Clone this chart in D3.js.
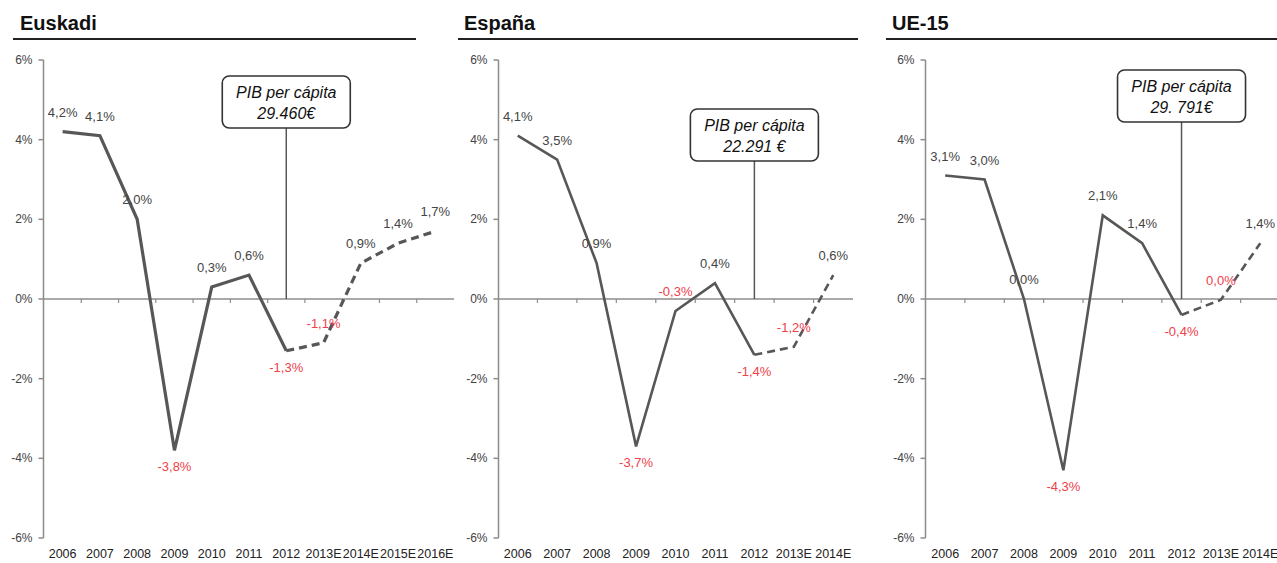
<!DOCTYPE html>
<html>
<head>
<meta charset="utf-8">
<script src="https://cdn.jsdelivr.net/npm/d3@7"></script>
<style>
  body { margin: 0; background: #fff; }
  svg { display: block; font-family: "Liberation Sans", Arial, sans-serif; }
</style>
</head>
<body>
<div id="chart"></div>
<script>
// --- datos ---
var yearsLong = ["2006", "2007", "2008", "2009", "2010", "2011", "2012", "2013E", "2014E", "2015E", "2016E"];
var yearsShort = ["2006", "2007", "2008", "2009", "2010", "2011", "2012", "2013E", "2014E"];
var euskadiValues = [4.2, 4.1, 2.0, -3.8, 0.3, 0.6, -1.3, -1.1, 0.9, 1.4, 1.7];
var espanaValues = [4.1, 3.5, 0.9, -3.7, -0.3, 0.4, -1.4, -1.2, 0.6];
var ue15Values = [3.1, 3.0, 0.0, -4.3, 2.1, 1.4, -0.4, -0.02, 1.4];
var yTicks = [-6, -4, -2, 0, 2, 4, 6];
var titles = ["Euskadi", "España", "UE-15"];
var calloutLabel = "PIB per cápita";
var calloutValues = ["29.460€", "22.291 €", "29. 791€"];
var lastRealYear = "2012";

// --- layout de cada panel ---
var panels = [
  { title: titles[0], cats: yearsLong, values: euskadiValues, callout: calloutValues[0],
    axisX: 43.5, range: [44, 454], titleX: 20, rule: [13, 416], boxTop: 76, lineW: 3.2,
    above: ["2013E"] },
  { title: titles[1], cats: yearsShort, values: espanaValues, callout: calloutValues[1],
    axisX: 498.5, range: [498, 853], titleX: 464, rule: [458, 858], boxTop: 109, lineW: 2.6,
    above: ["2010", "2013E"] },
  { title: titles[2], cats: yearsShort, values: ue15Values, callout: calloutValues[2],
    axisX: 925.5, range: [925.5, 1280], titleX: 892, rule: [886, 1277], boxTop: 70, lineW: 2.6,
    above: ["2013E"] }
];

var width = 1277, height = 563;
var red = "#f0404a", grey = "#444", axisGrey = "#8c8c8c", lineGrey = "#575757";

var svg = d3.select("#chart").append("svg")
  .attr("width", width)
  .attr("height", height);

var y = d3.scaleLinear().domain([-6, 6]).range([538, 60]);

function fmt(v) {
  var s = Math.abs(v).toFixed(1).replace(".", ",");
  return (v <= -0.05 ? "-" : "") + s + "%";
}

panels.forEach(drawPanel);

function drawPanel(p) {
  var g = svg.append("g");
  var x = d3.scaleBand().domain(p.cats).range(p.range);
  var cx = function (c) { return x(c) + x.bandwidth() / 2; };
  var pts = p.cats.map(function (c, i) { return { cat: c, v: p.values[i] }; });

  // titulo + subrayado
  g.append("text")
    .attr("x", p.titleX).attr("y", 30)
    .attr("font-size", 20).attr("font-weight", "bold").attr("fill", "#111")
    .text(p.title);
  g.append("line")
    .attr("x1", p.rule[0]).attr("x2", p.rule[1])
    .attr("y1", 39).attr("y2", 39)
    .attr("stroke", "#222").attr("stroke-width", 2);

  // eje Y
  g.append("line")
    .attr("x1", p.axisX).attr("x2", p.axisX)
    .attr("y1", y(6)).attr("y2", y(-6))
    .attr("stroke", axisGrey).attr("stroke-width", 1.5);
  g.selectAll(".ytick").data(yTicks).enter().append("line")
    .attr("x1", p.axisX - 5).attr("x2", p.axisX)
    .attr("y1", function (d) { return y(d); }).attr("y2", function (d) { return y(d); })
    .attr("stroke", axisGrey).attr("stroke-width", 1.5);
  g.selectAll(".ylab").data(yTicks).enter().append("text")
    .attr("x", p.axisX - 11).attr("y", function (d) { return y(d) + 4; })
    .attr("text-anchor", "end").attr("font-size", 12).attr("fill", grey)
    .text(function (d) { return d + "%"; });

  // eje X en el 0
  g.append("line")
    .attr("x1", p.axisX).attr("x2", Math.min(p.range[1], width))
    .attr("y1", y(0)).attr("y2", y(0))
    .attr("stroke", axisGrey).attr("stroke-width", 1.5);
  g.selectAll(".xtick").data(p.cats.slice(1)).enter().append("line")
    .attr("x1", function (d) { return x(d); }).attr("x2", function (d) { return x(d); })
    .attr("y1", y(0)).attr("y2", y(0) + 4)
    .attr("stroke", axisGrey).attr("stroke-width", 1.2);
  g.selectAll(".xlab").data(p.cats).enter().append("text")
    .attr("x", cx).attr("y", 558)
    .attr("text-anchor", "middle").attr("font-size", 12.5).attr("fill", "#222")
    .text(function (d) { return d; });

  // llamada PIB per capita
  var bx = cx(lastRealYear), bw = 128, bh = 52;
  g.append("line")
    .attr("x1", bx).attr("x2", bx)
    .attr("y1", p.boxTop + bh).attr("y2", y(0))
    .attr("stroke", lineGrey).attr("stroke-width", 1.5);
  g.append("rect")
    .attr("x", bx - bw / 2).attr("y", p.boxTop)
    .attr("width", bw).attr("height", bh)
    .attr("rx", 7).attr("ry", 7)
    .attr("fill", "#fff").attr("stroke", "#333").attr("stroke-width", 1.6);
  g.append("text")
    .attr("x", bx).attr("y", p.boxTop + 22)
    .attr("text-anchor", "middle").attr("font-size", 16).attr("font-style", "italic").attr("fill", "#111")
    .text(calloutLabel);
  g.append("text")
    .attr("x", bx).attr("y", p.boxTop + 43)
    .attr("text-anchor", "middle").attr("font-size", 16).attr("font-style", "italic").attr("fill", "#111")
    .text(p.callout);

  // linea: real (solida) y estimada (discontinua)
  var cut = p.cats.indexOf(lastRealYear);
  var line = d3.line().x(function (d) { return cx(d.cat); }).y(function (d) { return y(d.v); });
  g.append("path")
    .attr("d", line(pts.slice(0, cut + 1)))
    .attr("fill", "none").attr("stroke", lineGrey).attr("stroke-width", p.lineW)
    .attr("stroke-linejoin", "miter");
  g.append("path")
    .attr("d", line(pts.slice(cut)))
    .attr("fill", "none").attr("stroke", lineGrey).attr("stroke-width", p.lineW)
    .attr("stroke-dasharray", "8,5");

  // etiquetas de valores
  g.selectAll(".val").data(pts).enter().append("text")
    .attr("x", function (d) { return cx(d.cat); })
    .attr("y", function (d) {
      var below = d.v < 0 && p.above.indexOf(d.cat) < 0;
      return y(d.v) + (below ? 21 : -15);
    })
    .attr("text-anchor", "middle").attr("font-size", 13)
    .attr("fill", function (d) { return d.v < 0 ? red : grey; })
    .text(function (d) { return fmt(d.v); });
}
</script>
</body>
</html>
